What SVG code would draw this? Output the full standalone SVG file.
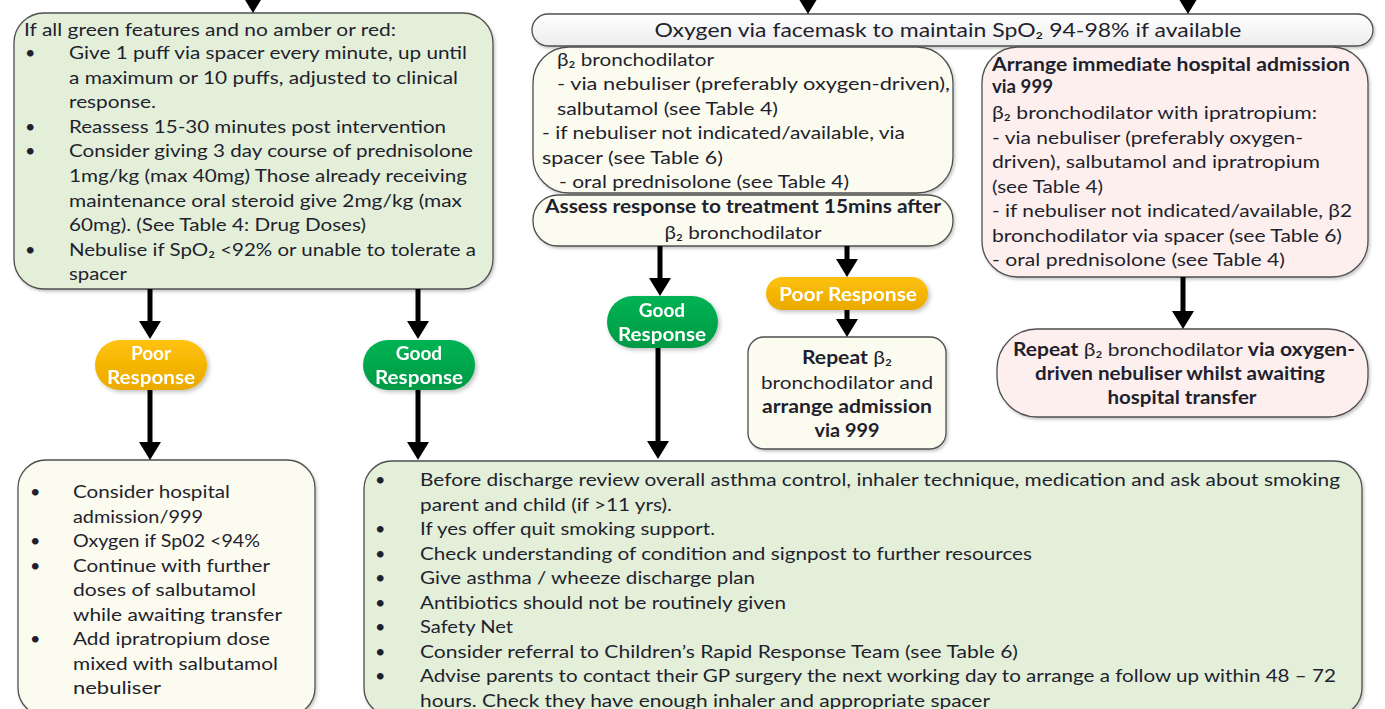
<svg xmlns="http://www.w3.org/2000/svg" width="1385" height="709" viewBox="0 0 1385 709">
  <defs>
    <style>
      .t{font-family:Lato,"Noto Sans","Liberation Sans",sans-serif;font-size:18px;fill:#1f1f2e}
      .b{font-weight:bold}
      .c{text-anchor:middle}
      .badge{font-family:Lato,"Noto Sans","Liberation Sans",sans-serif;font-size:19px;font-weight:bold;fill:#ffffff;text-anchor:middle}
      .box{stroke:#4f4f4f;stroke-width:1.3;filter:url(#sh)}
      .green{fill:#e3efd9}
      .cream{fill:#fbfbef}
      .pink{fill:#fcefed}
      .white{fill:url(#gWhite)}
      .conn path{stroke:#000000;stroke-width:5;fill:none;marker-end:url(#ah)}
    </style>
    <marker id="ah" markerUnits="userSpaceOnUse" viewBox="0 0 18 22" refX="6" refY="11" markerWidth="18" markerHeight="22" orient="auto">
      <path d="M0,0 L18,11 L0,22 z" fill="#000000"/>
    </marker>
    <filter id="sh" x="-5%" y="-5%" width="110%" height="115%">
      <feDropShadow dx="1.5" dy="2" stdDeviation="1.5" flood-color="#000000" flood-opacity="0.22"/>
    </filter>
    <filter id="bsh" x="-10%" y="-10%" width="125%" height="135%">
      <feDropShadow dx="2" dy="2" stdDeviation="2" flood-color="#000000" flood-opacity="0.25"/>
    </filter>
    <linearGradient id="gWhite" x1="0" y1="0" x2="0" y2="1">
      <stop offset="0" stop-color="#ffffff"/>
      <stop offset="1" stop-color="#ededed"/>
    </linearGradient>
    <linearGradient id="gOrange" x1="0" y1="0" x2="0" y2="1">
      <stop offset="0" stop-color="#ffc20a"/>
      <stop offset="1" stop-color="#eaa900"/>
    </linearGradient>
    <linearGradient id="gGreen" x1="0" y1="0" x2="0" y2="1">
      <stop offset="0" stop-color="#00b353"/>
      <stop offset="1" stop-color="#009a45"/>
    </linearGradient>
  </defs>

  <rect width="1385" height="709" fill="#ffffff"/>

  <!-- Mild asthma: initial treatment with inhaler -->
  <g id="mild-treatment">
    <rect class="box green" x="14" y="13" width="479" height="276" rx="30"/>
    <text class="t" x="24" y="36" textLength="372" lengthAdjust="spacingAndGlyphs">If all green features and no amber or red:</text>
    <text class="t" x="25" y="59">•</text>
    <text class="t" x="69" y="59" textLength="398" lengthAdjust="spacingAndGlyphs">Give 1 puff via spacer every minute, up until</text>
    <text class="t" x="69" y="83.6" textLength="389" lengthAdjust="spacingAndGlyphs">a maximum or 10 puffs, adjusted to clinical</text>
    <text class="t" x="69" y="108.2" textLength="87" lengthAdjust="spacingAndGlyphs">response.</text>
    <text class="t" x="25" y="132.8">•</text>
    <text class="t" x="69" y="132.8" textLength="377" lengthAdjust="spacingAndGlyphs">Reassess 15-30 minutes post intervention</text>
    <text class="t" x="25" y="157.4">•</text>
    <text class="t" x="69" y="157.4" textLength="404" lengthAdjust="spacingAndGlyphs">Consider giving 3 day course of prednisolone</text>
    <text class="t" x="69" y="182" textLength="398" lengthAdjust="spacingAndGlyphs">1mg/kg (max 40mg) Those already receiving</text>
    <text class="t" x="69" y="206.6" textLength="393" lengthAdjust="spacingAndGlyphs">maintenance oral steroid give 2mg/kg (max</text>
    <text class="t" x="69" y="231.2" textLength="297" lengthAdjust="spacingAndGlyphs">60mg). (See Table 4: Drug Doses)</text>
    <text class="t" x="25" y="255.8">•</text>
    <text class="t" x="69" y="255.8" textLength="407" lengthAdjust="spacingAndGlyphs">Nebulise if SpO₂ &lt;92% or unable to tolerate a</text>
    <text class="t" x="69" y="280.4" textLength="58" lengthAdjust="spacingAndGlyphs">spacer</text>
  </g>

  <!-- Oxygen for moderate / severe -->
  <g id="oxygen">
    <rect class="box white" x="532" y="14" width="841" height="32" rx="16"/>
    <text class="t c" x="948" y="37" style="font-size:19px" textLength="587" lengthAdjust="spacingAndGlyphs">Oxygen via facemask to maintain SpO₂ 94-98% if available</text>
  </g>

  <!-- Moderate: bronchodilator -->
  <g id="bronchodilator">
    <rect class="box cream" x="533" y="47" width="420" height="146" rx="36"/>
    <text class="t" x="557" y="66" textLength="157" lengthAdjust="spacingAndGlyphs">β₂ bronchodilator</text>
    <text class="t" x="557" y="90.4" textLength="393" lengthAdjust="spacingAndGlyphs">- via nebuliser (preferably oxygen-driven),</text>
    <text class="t" x="557" y="114.8" textLength="221" lengthAdjust="spacingAndGlyphs">salbutamol (see Table 4)</text>
    <text class="t" x="542" y="139.2" textLength="363" lengthAdjust="spacingAndGlyphs">- if nebuliser not indicated/available, via</text>
    <text class="t" x="542" y="163.6" textLength="181" lengthAdjust="spacingAndGlyphs">spacer (see Table 6)</text>
    <text class="t" x="559" y="188" textLength="290" lengthAdjust="spacingAndGlyphs">- oral prednisolone (see Table 4)</text>
  </g>

  <!-- Moderate: reassessment -->
  <g id="assess">
    <rect class="box cream" x="533" y="195" width="420" height="51" rx="25"/>
    <text class="t b c" x="743" y="213" textLength="396" lengthAdjust="spacingAndGlyphs">Assess response to treatment 15mins after</text>
    <text class="t c" x="743" y="239" textLength="157" lengthAdjust="spacingAndGlyphs">β₂ bronchodilator</text>
  </g>

  <!-- Severe: admission -->
  <g id="admission">
    <rect class="box pink" x="982" y="47" width="386" height="230" rx="36"/>
    <text class="t b" x="992" y="71" textLength="358" lengthAdjust="spacingAndGlyphs">Arrange immediate hospital admission</text>
    <text class="t b" x="992" y="93" textLength="61" lengthAdjust="spacingAndGlyphs">via 999</text>
    <text class="t" x="992" y="119" textLength="325" lengthAdjust="spacingAndGlyphs">β₂ bronchodilator with ipratropium:</text>
    <text class="t" x="992" y="143.5" textLength="311" lengthAdjust="spacingAndGlyphs">- via nebuliser (preferably oxygen-</text>
    <text class="t" x="992" y="168" textLength="328" lengthAdjust="spacingAndGlyphs">driven), salbutamol and ipratropium</text>
    <text class="t" x="992" y="192.5" textLength="111" lengthAdjust="spacingAndGlyphs">(see Table 4)</text>
    <text class="t" x="992" y="217" textLength="360" lengthAdjust="spacingAndGlyphs">- if nebuliser not indicated/available, β2</text>
    <text class="t" x="992" y="241.5" textLength="350" lengthAdjust="spacingAndGlyphs">bronchodilator via spacer (see Table 6)</text>
    <text class="t" x="992" y="266" textLength="293" lengthAdjust="spacingAndGlyphs">- oral prednisolone (see Table 4)</text>
  </g>

  <!-- Response badges -->
  <g id="poor-left" filter="url(#bsh)">
    <rect x="95" y="340" width="112" height="50" rx="25" fill="url(#gOrange)"/>
    <text class="badge" x="151" y="360">Poor</text>
    <text class="badge" x="151" y="384" textLength="88" lengthAdjust="spacingAndGlyphs">Response</text>
  </g>
  <g id="good-left" filter="url(#bsh)">
    <rect x="363" y="340" width="112" height="50" rx="25" fill="url(#gGreen)"/>
    <text class="badge" x="419" y="360">Good</text>
    <text class="badge" x="419" y="384" textLength="88" lengthAdjust="spacingAndGlyphs">Response</text>
  </g>
  <g id="good-mid" filter="url(#bsh)">
    <rect x="607" y="296" width="111" height="52" rx="26" fill="url(#gGreen)"/>
    <text class="badge" x="662" y="317">Good</text>
    <text class="badge" x="662" y="341" textLength="88" lengthAdjust="spacingAndGlyphs">Response</text>
  </g>
  <g id="poor-mid" filter="url(#bsh)">
    <rect x="766" y="277" width="162" height="33" rx="16.5" fill="url(#gOrange)"/>
    <text class="badge" x="848" y="301" textLength="138" lengthAdjust="spacingAndGlyphs">Poor Response</text>
  </g>

  <!-- Moderate poor response -->
  <g id="repeat-admit">
    <rect class="box cream" x="748" y="337" width="198" height="112" rx="16"/>
    <text class="t c" x="847" y="364" textLength="90" lengthAdjust="spacingAndGlyphs"><tspan class="b">Repeat</tspan> β₂</text>
    <text class="t c" x="847" y="389" textLength="172" lengthAdjust="spacingAndGlyphs">bronchodilator and</text>
    <text class="t b c" x="847" y="413" textLength="170" lengthAdjust="spacingAndGlyphs">arrange admission</text>
    <text class="t b c" x="847" y="437" textLength="65" lengthAdjust="spacingAndGlyphs">via 999</text>
  </g>

  <!-- Severe: awaiting transfer -->
  <g id="repeat-transfer">
    <rect class="box pink" x="997" y="329" width="371" height="88" rx="40"/>
    <text class="t c" x="1184" y="356" textLength="342" lengthAdjust="spacingAndGlyphs"><tspan class="b">Repeat</tspan> β₂ bronchodilator <tspan class="b">via oxygen-</tspan></text>
    <text class="t b c" x="1180" y="380" textLength="290" lengthAdjust="spacingAndGlyphs">driven nebuliser whilst awaiting</text>
    <text class="t b c" x="1182" y="404" textLength="149" lengthAdjust="spacingAndGlyphs">hospital transfer</text>
  </g>

  <!-- Mild poor response -->
  <g id="mild-poor">
    <rect class="box cream" x="18" y="460" width="297" height="256" rx="28"/>
    <text class="t" x="30" y="498">•</text>
    <text class="t" x="73" y="498" textLength="157" lengthAdjust="spacingAndGlyphs">Consider hospital</text>
    <text class="t" x="73" y="522.5" textLength="130" lengthAdjust="spacingAndGlyphs">admission/999</text>
    <text class="t" x="30" y="547">•</text>
    <text class="t" x="73" y="547" textLength="187" lengthAdjust="spacingAndGlyphs">Oxygen if Sp02 &lt;94%</text>
    <text class="t" x="30" y="571.5">•</text>
    <text class="t" x="73" y="571.5" textLength="197" lengthAdjust="spacingAndGlyphs">Continue with further</text>
    <text class="t" x="73" y="596" textLength="183" lengthAdjust="spacingAndGlyphs">doses of salbutamol</text>
    <text class="t" x="73" y="620.5" textLength="209" lengthAdjust="spacingAndGlyphs">while awaiting transfer</text>
    <text class="t" x="30" y="645">•</text>
    <text class="t" x="73" y="645" textLength="197" lengthAdjust="spacingAndGlyphs">Add ipratropium dose</text>
    <text class="t" x="73" y="669.5" textLength="205" lengthAdjust="spacingAndGlyphs">mixed with salbutamol</text>
    <text class="t" x="73" y="694" textLength="88" lengthAdjust="spacingAndGlyphs">nebuliser</text>
  </g>

  <!-- Discharge advice -->
  <g id="discharge">
    <rect class="box green" x="364" y="461" width="998" height="255" rx="28"/>
    <text class="t" x="375" y="486">•</text>
    <text class="t" x="420" y="486" textLength="920" lengthAdjust="spacingAndGlyphs">Before discharge review overall asthma control, inhaler technique, medication and ask about smoking</text>
    <text class="t" x="420" y="510.5" textLength="252" lengthAdjust="spacingAndGlyphs">parent and child (if &gt;11 yrs).</text>
    <text class="t" x="375" y="535">•</text>
    <text class="t" x="420" y="535" textLength="295" lengthAdjust="spacingAndGlyphs">If yes offer quit smoking support.</text>
    <text class="t" x="375" y="559.5">•</text>
    <text class="t" x="420" y="559.5" textLength="612" lengthAdjust="spacingAndGlyphs">Check understanding of condition and signpost to further resources</text>
    <text class="t" x="375" y="584">•</text>
    <text class="t" x="420" y="584" textLength="335" lengthAdjust="spacingAndGlyphs">Give asthma / wheeze discharge plan</text>
    <text class="t" x="375" y="608.5">•</text>
    <text class="t" x="420" y="608.5" textLength="366" lengthAdjust="spacingAndGlyphs">Antibiotics should not be routinely given</text>
    <text class="t" x="375" y="633">•</text>
    <text class="t" x="420" y="633" textLength="93" lengthAdjust="spacingAndGlyphs">Safety Net</text>
    <text class="t" x="375" y="657.5">•</text>
    <text class="t" x="420" y="657.5" textLength="598" lengthAdjust="spacingAndGlyphs">Consider referral to Children’s Rapid Response Team (see Table 6)</text>
    <text class="t" x="375" y="682">•</text>
    <text class="t" x="420" y="682" textLength="916" lengthAdjust="spacingAndGlyphs">Advise parents to contact their GP surgery the next working day to arrange a follow up within 48 – 72</text>
    <text class="t" x="420" y="706.5" textLength="570" lengthAdjust="spacingAndGlyphs">hours. Check they have enough inhaler and appropriate spacer</text>
  </g>

  <!-- Connectors -->
  <g id="connectors" class="conn">
    <path d="M253,-20 V1"/>
    <path d="M808,-20 V2"/>
    <path d="M1188,-20 V2"/>
    <path d="M150,289 V327"/>
    <path d="M150,390 V448"/>
    <path d="M418,289 V327"/>
    <path d="M418,390 V448"/>
    <path d="M660,246 V284"/>
    <path d="M658,348 V447"/>
    <path d="M847,246 V265"/>
    <path d="M847,310 V325"/>
    <path d="M1183,277 V317"/>
  </g>
</svg>
